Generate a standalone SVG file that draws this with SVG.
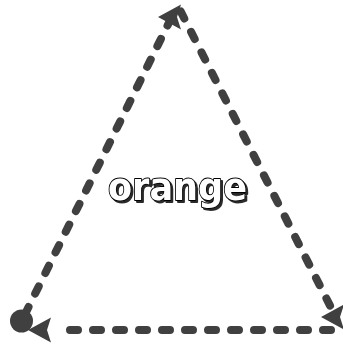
<svg xmlns="http://www.w3.org/2000/svg" xmlns:xlink="http://www.w3.org/1999/xlink" width="343" height="347" viewBox="0 0 343 347">
  <style>
    .edge { fill: none; stroke: #404040; stroke-width: 8; stroke-linecap: round; stroke-dasharray: 8 15; }
    .head { fill: #404040; stroke: none; }
    .lbl { font-family: "DejaVu Sans", sans-serif; font-weight: bold; font-size: 37px; fill: #ffffff; stroke: #000000; stroke-width: 1.8; stroke-linejoin: round; paint-order: stroke; }
  </style>
  <defs>
    <path id="arrowhead" d="M0,0 L23,-12.5 L19,0 L23,12.5 Z"/>
    <filter id="lblshadow" x="-10%" y="-20%" width="130%" height="150%">
      <feDropShadow dx="2" dy="2" stdDeviation="0" flood-color="#2a2a2a" flood-opacity="1"/>
    </filter>
  </defs>
  <rect width="343" height="347" fill="#ffffff"/>
  <g id="connectors">
    <g id="edge-left">
      <path class="edge" d="M21.5,321.3 L170.3,19.9" stroke-dashoffset="15.1"/>
      <circle class="head" cx="21.5" cy="321" r="11.5"/>
      <use class="head" xlink:href="#arrowhead" x="158" y="17"/>
    </g>
    <g id="edge-right">
      <path class="edge" d="M180,10 L331.6,308.7" stroke-dashoffset="21.5"/>
      <use class="head" xlink:href="#arrowhead" x="321" y="317"/>
    </g>
    <g id="edge-bottom">
      <path class="edge" d="M331,330 L62,330"/>
      <use class="head" xlink:href="#arrowhead" x="28" y="330"/>
    </g>
  </g>
  <g id="label-orange">
    <text class="lbl" x="108" y="200" textLength="139" lengthAdjust="spacingAndGlyphs" filter="url(#lblshadow)">orange</text>
  </g>
</svg>
